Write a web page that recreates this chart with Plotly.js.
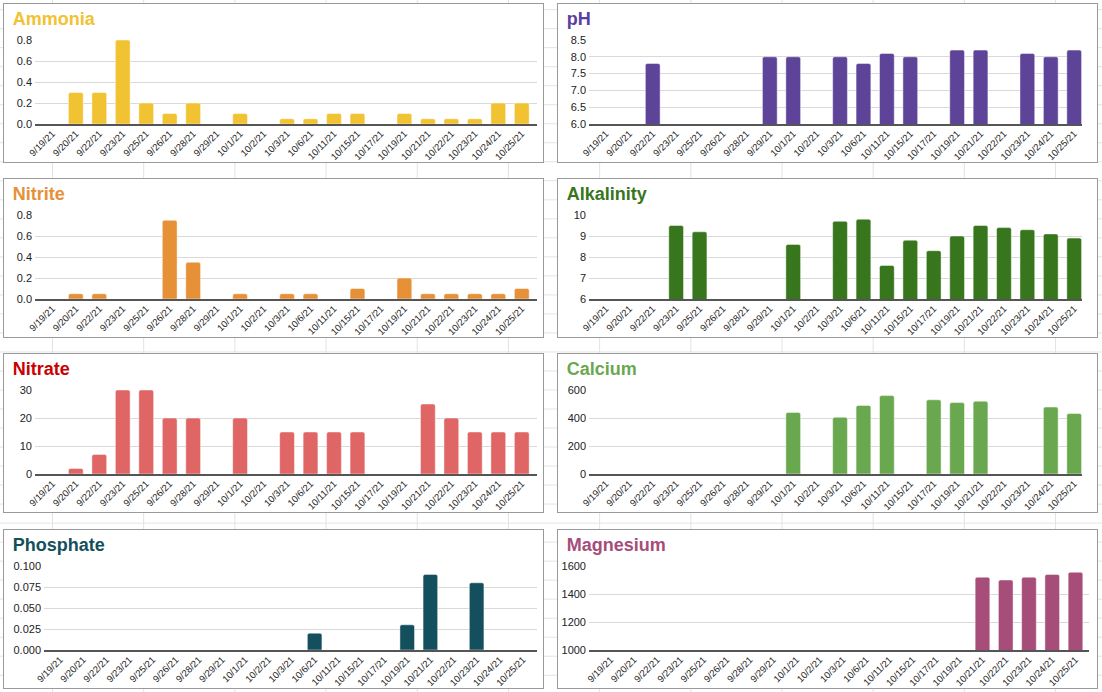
<!DOCTYPE html>
<html>
<head>
<meta charset="utf-8">
<script src="https://cdn.plot.ly/plotly-3.0.1.min.js"></script>
<style>
  html, body { margin:0; padding:0; }
  body {
    width:1102px; height:692px; overflow:hidden; position:relative;
    background-color:#ffffff;
    background-image:
      linear-gradient(to right, #e2e2e2 1px, transparent 1px),
      linear-gradient(to bottom, #e2e2e2 1px, transparent 1px);
    background-size: 91.2px 100%, 100% 19.02px;
    background-position: 52px 0, 0 9.2px;
  }
  .panel { position:absolute; box-sizing:border-box; width:541px; height:160px;
           border:1px solid #9a9a9a; background:#ffffff; }
  .plot { width:539px; height:158px; }
</style>
</head>
<body>
<div class="panel" style="left:3px;top:3px"><div id="ammonia" class="plot"></div></div>
<div class="panel" style="left:557px;top:3px"><div id="ph" class="plot"></div></div>
<div class="panel" style="left:3px;top:178px"><div id="nitrite" class="plot"></div></div>
<div class="panel" style="left:557px;top:178px"><div id="alkalinity" class="plot"></div></div>
<div class="panel" style="left:3px;top:353px"><div id="nitrate" class="plot"></div></div>
<div class="panel" style="left:557px;top:353px"><div id="calcium" class="plot"></div></div>
<div class="panel" style="left:3px;top:529px"><div id="phosphate" class="plot"></div></div>
<div class="panel" style="left:557px;top:529px"><div id="magnesium" class="plot"></div></div>
<script>
const dates = ['9/19/21','9/20/21','9/22/21','9/23/21','9/25/21','9/26/21','9/28/21','9/29/21','10/1/21','10/2/21','10/3/21','10/6/21','10/11/21','10/15/21','10/17/21','10/19/21','10/21/21','10/22/21','10/23/21','10/24/21','10/25/21'];

const ammonia    = [null,0.3,0.3,0.8,0.2,0.1,0.2,null,0.1,null,0.05,0.05,0.1,0.1,null,0.1,0.05,0.05,0.05,0.2,0.2];
const ph         = [null,null,7.8,null,null,null,null,8.0,8.0,null,8.0,7.8,8.1,8.0,null,8.2,8.2,null,8.1,8.0,8.2];
const nitrite    = [null,0.05,0.05,null,null,0.75,0.35,null,0.05,null,0.05,0.05,null,0.1,null,0.2,0.05,0.05,0.05,0.05,0.1];
const alkalinity = [null,null,null,9.5,9.2,null,null,null,8.6,null,9.7,9.8,7.6,8.8,8.3,9.0,9.5,9.4,9.3,9.1,8.9];
const nitrate    = [null,2,7,30,30,20,20,null,20,null,15,15,15,15,null,null,25,20,15,15,15];
const calcium    = [null,null,null,null,null,null,null,null,440,null,405,490,560,null,530,510,520,null,null,478,432];
const phosphate  = [null,null,null,null,null,null,null,null,null,null,null,0.02,null,null,null,0.03,0.09,null,0.08,null,null];
const magnesium  = [null,null,null,null,null,null,null,null,null,null,null,null,null,null,null,null,1520,1500,1520,1540,1555];

const FONT = "Arial, 'Liberation Sans', Helvetica, sans-serif";
const W = 539, H = 158;

// geometry (px inside panel): grid start/end and category band start/end
const GEO_LEFT  = { gl:31, gr:533, cl:36.6, cr:529.5 };
const GEO_PHOS  = { gl:40, gr:533, cl:44.5, cr:530.5 };
const GEO_RIGHT = { gl:31, gr:524.5, cl:36.2, cr:528.4 };
const GEO_MAG   = { gl:31, gr:531, cl:40.9, cr:529.1 };

function draw(id, title, titleColor, barColor, values, yrange, dtick, fmt, g) {
  const n = dates.length;
  const unit = (g.cr - g.cl) / n;
  const xr = [-0.5 - (g.cl - g.gl) / unit, n - 0.5 + (g.gr - g.cr) / unit];
  const trace = {
    type:'bar', x:dates, y:values,
    marker:{ color:barColor, cornerradius:2, line:{ color:'rgba(255,255,255,0.45)', width:1 } },
    hoverinfo:'none'
  };
  const layout = {
    width:W, height:H,
    margin:{ l:g.gl, r:W - g.gr, t:36, b:38, pad:0 },
    paper_bgcolor:'rgba(0,0,0,0)', plot_bgcolor:'rgba(0,0,0,0)',
    font:{ family:FONT, color:'#222' },
    bargap:0.37,
    showlegend:false,
    title:{ text:'<b>'+title+'</b>', font:{ family:FONT, size:18, color:titleColor },
            x:8.7/W, xref:'container', xanchor:'left', y:1-14.6/H, yref:'container', yanchor:'middle' },
    xaxis:{ type:'category', tickangle:-45, tickfont:{ size:9.5, color:'#222' },
            range:xr, showgrid:false, showline:true, linecolor:'#555', linewidth:1.5,
            ticks:'', ticklabelstandoff:-1, fixedrange:true, automargin:false },
    yaxis:{ range:yrange, dtick:dtick, tick0:yrange[0], tickformat:fmt, tickfont:{ size:11, color:'#222' },
            showgrid:true, gridcolor:'#d9d9d9', gridwidth:1, zeroline:false, showline:false,
            ticks:'', ticklabelstandoff:2, fixedrange:true, automargin:false }
  };
  Plotly.newPlot(id, [trace], layout, { staticPlot:true, displayModeBar:false });
}

draw('ammonia',    'Ammonia',    '#f1c232', '#f1c232', ammonia,    [0, 0.8],     0.2,   '.1f', GEO_LEFT);
draw('ph',         'pH',         '#5b3f9e', '#5e4499', ph,         [6, 8.5],     0.5,   '.1f', GEO_RIGHT);
draw('nitrite',    'Nitrite',    '#e69138', '#e69138', nitrite,    [0, 0.8],     0.2,   '.1f', GEO_LEFT);
draw('alkalinity', 'Alkalinity', '#38761d', '#38761d', alkalinity, [6, 10],      1,     'd',   GEO_RIGHT);
draw('nitrate',    'Nitrate',    '#cc0000', '#e06666', nitrate,    [0, 30],      10,    'd',   GEO_LEFT);
draw('calcium',    'Calcium',    '#6aa84f', '#6aa84f', calcium,    [0, 600],     200,   'd',   GEO_RIGHT);
draw('phosphate',  'Phosphate',  '#134f5c', '#134f5c', phosphate,  [0, 0.1],     0.025, '.3f', GEO_PHOS);
draw('magnesium',  'Magnesium',  '#a64d79', '#a64d79', magnesium,  [1000, 1600], 200,   'd',   GEO_MAG);
</script>
</body>
</html>
